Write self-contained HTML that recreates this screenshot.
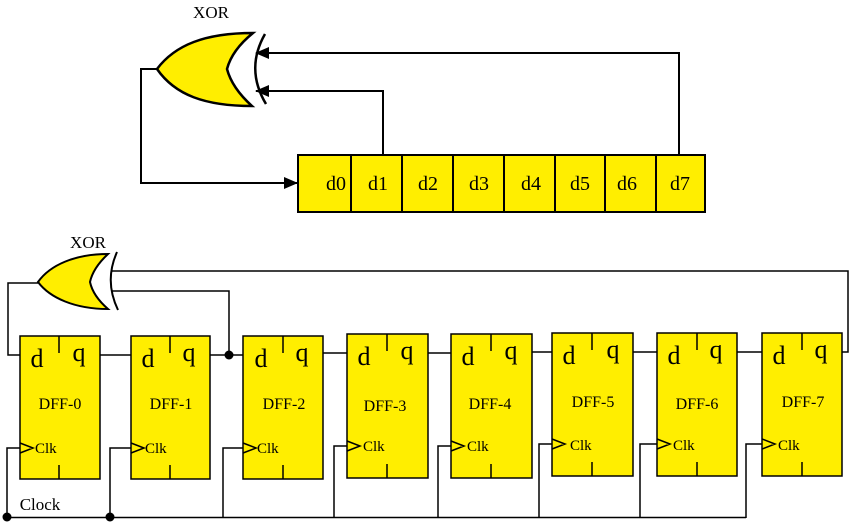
<!DOCTYPE html>
<html><head><style>
html,body{margin:0;padding:0;background:#fff;}
svg{display:block;font-family:"Liberation Serif",serif;}
</style></head><body>
<svg width="850" height="524" viewBox="0 0 850 524" xmlns="http://www.w3.org/2000/svg">
<defs>
<marker id="ar" markerWidth="14" markerHeight="12" refX="13" refY="6" orient="auto" markerUnits="userSpaceOnUse">
<path d="M0,0 L14,6 L0,12 Z" fill="#000"/></marker>
</defs>
<g stroke="#000" stroke-width="2" fill="none">
<path d="M157,69 C175,45 205,33 253,33 Q232,50 227,69 Q232,88 252,106 C205,106 175,95 157,69 Z" fill="#ffee00" stroke-width="2.5"/>
<path d="M265,34 Q245,69 266,104" stroke-width="2.5"/>
<polyline points="679,155 679,53 256,53" marker-end="url(#ar)"/>
<polyline points="383,155 383,91 256,91" marker-end="url(#ar)"/>
<polyline points="157,69 141,69 141,183 297,183" marker-end="url(#ar)"/>
<rect x="298" y="155" width="407" height="57" fill="#ffee00"/>
<path d="M351,155V212M402,155V212M453,155V212M504,155V212M555,155V212M605,155V212M656,155V212"/>
</g>
<g font-size="20" text-anchor="middle" fill="#000">
<text x="211" y="18" font-size="17">XOR</text>
<text x="336" y="190">d0</text><text x="378" y="190">d1</text><text x="428" y="190">d2</text>
<text x="479" y="190">d3</text><text x="531" y="190">d4</text><text x="580" y="190">d5</text>
<text x="627" y="190">d6</text><text x="680" y="190">d7</text>
</g>
<g stroke="#000" stroke-width="1.5" fill="none">
<path d="M38,282 C50,265 75,254 108,254 Q93,268 90,282 Q93,296 108,309 C75,309 50,298 38,282 Z" fill="#ffee00" stroke-width="2"/>
<path d="M117,252 Q104,281 118,310" stroke-width="2"/>
<polyline points="112,271 848,271 848,352 842,352"/>
<polyline points="112,291 229,291 229,355"/>
<polyline points="38,283 8,283 8,355 20,355"/>
<path d="M100,355H131M210,355H243M323,353H347M428,353H451M532,352H552M633,352H657M737,352H762"/>
<polyline points="20,448 7,448 7,517"/>
<polyline points="131,448 110,448 110,517"/>
<polyline points="243,448 223,448 223,517"/>
<polyline points="347,446 334,446 334,518"/>
<polyline points="451,446 438,446 438,518"/>
<polyline points="552,444 539,444 539,518"/>
<polyline points="657,444 640,444 640,518"/>
<polyline points="762,444 746,444 746,518"/>
<path d="M7,517.5H746"/>
</g>
<circle cx="229" cy="355" r="4.5" fill="#000"/>
<circle cx="7" cy="517" r="4.5" fill="#000"/>
<circle cx="110" cy="517" r="4.5" fill="#000"/>
<g stroke="#000" stroke-width="1.5">
<g fill="#ffee00">
<rect x="20" y="336" width="80" height="143"/><rect x="131" y="336" width="79" height="143"/>
<rect x="243" y="336" width="80" height="143"/><rect x="347" y="334" width="81" height="144"/>
<rect x="451" y="334" width="81" height="144"/><rect x="552" y="333" width="81" height="143"/>
<rect x="657" y="333" width="80" height="143"/><rect x="762" y="333" width="80" height="143"/>
</g>
<path d="M59,336v17M59,465v14M170,336v17M170,465v14M283,336v17M283,465v14M387,334v17M387,464v14M491,334v17M491,464v14M592,333v17M592,462v14M697,333v17M697,462v14M802,333v17M802,462v14" fill="none"/>
<path d="M20,443l13,5l-13,5M131,443l13,5l-13,5M243,443l13,5l-13,5M347,441l13,5l-13,5M451,441l13,5l-13,5M552,439l13,5l-13,5M657,439l13,5l-13,5M762,439l13,5l-13,5" fill="none"/>
</g>
<g fill="#000" text-anchor="middle">
<text x="88" y="248" font-size="17">XOR</text>
<text x="40" y="510" font-size="17">Clock</text>
<g font-size="26">
<text x="37" y="367">d</text><text x="79" y="361">q</text>
<text x="148" y="367">d</text><text x="189" y="361">q</text>
<text x="261" y="367">d</text><text x="302" y="361">q</text>
<text x="364" y="365">d</text><text x="407" y="359">q</text>
<text x="468" y="365">d</text><text x="511" y="359">q</text>
<text x="569" y="364">d</text><text x="613" y="358">q</text>
<text x="674" y="364">d</text><text x="716" y="358">q</text>
<text x="779" y="364">d</text><text x="821" y="358">q</text>
</g>
<g font-size="16">
<text x="60" y="409">DFF-0</text><text x="171" y="409">DFF-1</text><text x="284" y="409">DFF-2</text>
<text x="385" y="411">DFF-3</text><text x="490" y="409">DFF-4</text><text x="593" y="407">DFF-5</text>
<text x="697" y="409">DFF-6</text><text x="803" y="407">DFF-7</text>
</g>
<g font-size="15" text-anchor="start">
<text x="35" y="453">Clk</text><text x="145" y="453">Clk</text><text x="257" y="453">Clk</text>
<text x="363" y="451">Clk</text><text x="467" y="451">Clk</text><text x="570" y="450">Clk</text>
<text x="673" y="450">Clk</text><text x="778" y="450">Clk</text>
</g>
</g>
</svg>
</body></html>
